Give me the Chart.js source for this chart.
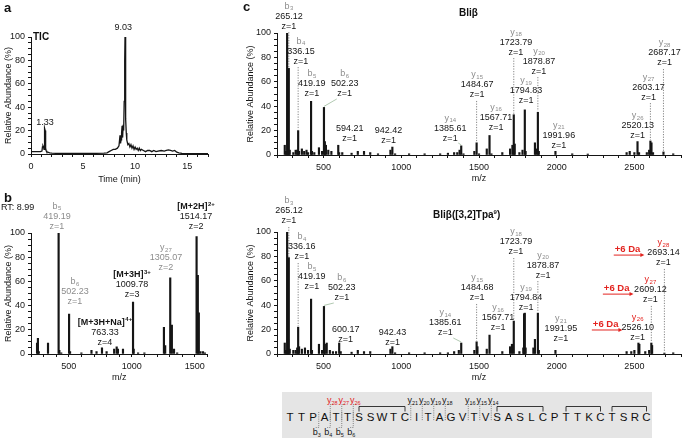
<!DOCTYPE html>
<html>
<head>
<meta charset="utf-8">
<script src="https://cdn.jsdelivr.net/npm/chart.js@4.4.1/dist/chart.umd.min.js"></script>
<style>
body { margin: 0; background: #fff; font-family: "Liberation Sans", Arial, sans-serif; }
#fig { position: relative; width: 685px; height: 439px; overflow: hidden; }
#fig canvas { position: absolute; }
.t { position: absolute; white-space: nowrap; color: #111; line-height: 1; }
.pl { font-weight: bold; font-size: 13px; }
.ttl { font-weight: bold; font-size: 10px; }
#seq { position: absolute; left: 0; top: 0; }
.aa { font: 11.5px "Liberation Sans", Arial, sans-serif; text-anchor: middle; fill: #111; }
.fl { font: 9px "Liberation Sans", Arial, sans-serif; text-anchor: middle; }
.br { fill: none; stroke: #222; stroke-width: 0.9; }
.dt { fill: none; stroke: #666; stroke-width: 0.8; stroke-dasharray: 1 1.2; }
</style>
</head>
<body>
<div id="fig">
  <canvas id="ticChart" width="225" height="185" style="left:0;top:0"></canvas>
  <canvas id="msChart" width="225" height="193" style="left:0;top:190px"></canvas>
  <canvas id="bliChart" width="445" height="184" style="left:240px;top:0"></canvas>
  <canvas id="tpaChart" width="445" height="193" style="left:240px;top:190px"></canvas>
  <svg id="seq" width="685" height="439"></svg>

  <div class="t pl" style="left:4px;top:1px">a</div>
  <div class="t pl" style="left:4px;top:191px">b</div>
  <div class="t pl" style="left:243px;top:0px">c</div>
  <div class="t ttl" style="left:33px;top:32px">TIC</div>
  <div class="t" style="left:1px;top:203px;font-size:9px">RT: 8.99</div>
  <div class="t ttl" style="left:459px;top:8px">Bliβ</div>
  <div class="t ttl" style="left:433px;top:209px">Bliβ([3,2]Tpa<sup style="font-size:6px">9</sup>)</div>
</div>

<script>
// a: total ion chromatogram
const ticTime = [
    0, 0.3, 0.6, 0.9, 1.05, 1.1, 1.15, 1.2, 1.25, 1.28,
    1.3, 1.33, 1.36, 1.39, 1.42, 1.45, 1.5, 1.6, 1.8, 2.0,
    2.5, 3, 4, 5, 6, 7, 7.3, 7.5, 7.7, 7.9,
    8.1, 8.3, 8.45, 8.55, 8.6, 8.65, 8.7, 8.75, 8.8, 8.85,
    8.9, 8.95, 9.0, 9.03, 9.06, 9.09, 9.12, 9.15, 9.2, 9.3,
    9.4, 9.5, 9.6, 9.7, 9.8, 9.9, 10.0, 10.1, 10.2, 10.3,
    10.4, 10.5, 10.6, 10.8, 11.0, 11.2, 11.4, 11.6, 11.8, 12.0,
    12.2, 12.5, 12.8, 13.0, 13.2, 13.4, 13.6, 13.8, 14.0, 14.2,
    14.5, 15, 16, 17
]
const ticAbund = [
    2, 2, 2, 2, 2.5, 6, 7, 6, 4, 12,
    22, 22, 20, 9, 5, 3, 2, 1.5, 1, 0.8,
    0.5, 0.5, 0.5, 0.5, 0.5, 0.7, 1, 2, 3, 4,
    4, 5, 7, 16, 9, 12, 18, 24, 14, 25,
    20, 45, 80, 100, 85, 60, 30, 18, 12, 8,
    9, 6, 8, 5, 7, 4, 6, 4, 5, 3,
    5, 3, 4, 3, 2, 3, 3, 2, 3, 2,
    2.5, 3, 2.5, 3, 3.5, 3, 2.5, 3, 1.5, 1,
    0.5, 0.3, 0.2, 0.2
]

// b: full MS at RT 8.99
const msMz = [
    248, 255, 262, 335, 419.19, 425, 440, 502.23, 510, 600,
    680, 720, 763.33, 800, 860, 880, 890, 930, 1009.78, 1015,
    1050, 1100, 1255, 1265, 1305.07, 1318, 1335, 1360, 1514.17, 1524,
    1532, 1545, 1565, 1580
]
const msAbund = [
    9, 13, 2, 9, 100, 3, 1, 33, 2, 1,
    3, 2, 5, 2, 4, 6, 4, 4, 43, 4,
    1, 1, 22, 7, 63, 24, 4, 1, 97, 65,
    34, 2, 2, 1
]

// c: MS/MS of Bli beta
const bliMz = [
    250, 258, 265.12, 271, 276, 282, 305, 320, 330, 336.15,
    342, 360, 375, 390, 400, 419.19, 425, 440, 470, 490,
    502.23, 508, 515, 530, 550, 594.21, 600, 620, 680, 720,
    760, 800, 850, 930, 942.42, 960, 1050, 1150, 1250, 1300,
    1340, 1360, 1375, 1385.61, 1400, 1470, 1484.67, 1500, 1550, 1567.71,
    1580, 1650, 1700, 1715, 1723.79, 1730, 1760, 1780, 1794.83, 1800,
    1860, 1870, 1878.87, 1885, 1991.96, 2100, 2200, 2450, 2470, 2500,
    2520.13, 2530, 2580, 2595, 2603.17, 2610, 2620, 2687.17, 2750
]
const bliAbund = [
    8, 3, 100, 12, 71, 4, 2, 4, 4, 20,
    3, 5, 3, 4, 2, 44, 3, 2, 6, 3,
    39, 11, 8, 4, 3, 8, 2, 2, 1.5, 3,
    3, 2, 1, 4, 6.5, 1, 1, 1, 1, 1.5,
    2, 2, 4, 7.5, 1, 3, 10, 1, 5, 16,
    1, 2, 5, 8, 33, 9, 2, 4, 37, 3,
    10, 5, 35, 3, 3, 1, 0.8, 2, 3, 2,
    11, 2, 2, 4, 11.5, 10, 2, 2.5, 1
]

// c: MS/MS of Bli beta([3,2]Tpa9)
const tpaMz = [
    250, 258, 265.12, 271, 276, 282, 305, 320, 330, 336.16,
    342, 360, 380, 400, 419.19, 425, 470, 490, 502.23, 508,
    520, 540, 560, 580, 600.17, 610, 680, 720, 760, 800,
    930, 942.43, 960, 1050, 1150, 1250, 1300, 1340, 1370, 1385.61,
    1470, 1484.68, 1490, 1550, 1567.71, 1650, 1700, 1712, 1723.79, 1760,
    1785, 1790, 1794.84, 1800, 1850, 1860, 1878.87, 1885, 1991.95, 2450,
    2480, 2500, 2526.10, 2532, 2570, 2595, 2609.12, 2614, 2693.14, 2750
]
const tpaAbund = [
    9, 3, 100, 12, 79, 4, 3, 3, 5, 22,
    6, 4, 5, 3, 45, 3, 8, 3, 39, 8,
    9, 3, 2, 2, 9, 2, 1.5, 3, 2, 2,
    4, 6, 1, 1, 1, 1, 1, 2, 3, 9,
    3, 10, 6, 4, 15.5, 2, 6, 8, 27, 2,
    5, 33, 33.5, 5, 5, 12, 33.5, 3, 3, 2,
    2, 3, 9, 8, 2, 3, 9, 7, 0.8, 1
]

// peptide map
const seq = 'TTPATTSSWTCITAGVTVSASLCPTTKCTSRC'
const bridges = [[6, 10], [18, 22], [24, 27], [28, 31]]
const yFrags = [28, 27, 26, 21, 20, 19, 18, 16, 15, 14]
const bFrags = [3, 4, 5, 6]
const shiftedFrags = [28, 27, 26]

// peak labels (x, y in data units of each chart)
const ticLabels = [
    {x: 8.85, y: 107.7, lines: ['9.03']},
    {x: 1.35, y: 26.5, lines: ['1.33']}
]
const msLabels = [
    {x: 406, y: 122.3, lines: ['b_5', '419.19', 'z=1'], gray: true},
    {x: 549, y: 59.5, lines: ['b_6', '502.23', 'z=1'], gray: true},
    {x: 787, y: 26.4, lines: ['[M+3H+Na]^4+', '763.33', 'z=4'], bold: true},
    {x: 1002, y: 65.3, lines: ['[M+3H]^3+', '1009.78', 'z=3'], bold: true},
    {x: 1271, y: 87.6, lines: ['y_27', '1305.07', 'z=2'], gray: true},
    {x: 1510, y: 121.5, lines: ['[M+2H]^2+', '1514.17', 'z=2'], bold: true}
]
const bliLabels = [
    {x: 277, y: 122, lines: ['b_3', '265.12', 'z=1'], to: 276, kind: 'dot'},
    {x: 354, y: 93.4, lines: ['b_4', '336.15', 'z=1'], to: 336.15, kind: 'dot'},
    {x: 424, y: 66.4, lines: ['b_5', '419.19', 'z=1']},
    {x: 636, y: 66.4, lines: ['b_6', '502.23', 'z=1'], to: 502.23, kind: 'lead'},
    {x: 668, y: 22.1, lines: ['594.21', 'z=1']},
    {x: 918, y: 19.7, lines: ['942.42', 'z=1']},
    {x: 1315, y: 30.3, lines: ['y_14', '1385.61', 'z=1'], to: 1385.61, kind: 'lead'},
    {x: 1488, y: 65.6, lines: ['y_15', '1484.67', 'z=1'], to: 1484.67, kind: 'dot'},
    {x: 1610, y: 39.3, lines: ['y_16', '1567.71', 'z=1']},
    {x: 1738, y: 100.8, lines: ['y_18', '1723.79', 'z=1'], to: 1723.79, kind: 'dot'},
    {x: 1886, y: 85.2, lines: ['y_20', '1878.87', 'z=1'], to: 1878.87, kind: 'dot'},
    {x: 1803, y: 60.7, lines: ['y_19', '1794.83', 'z=1']},
    {x: 2014, y: 24.5, lines: ['y_21', '1991.96', 'z=1']},
    {x: 2521, y: 32, lines: ['y_26', '2520.13', 'z=1']},
    {x: 2591, y: 63.9, lines: ['y_27', '2603.17', 'z=1'], to: 2603.17, kind: 'dot'},
    {x: 2694, y: 91.8, lines: ['y_28', '2687.17', 'z=1'], to: 2687.17, kind: 'dot'}
]
const tpaLabels = [
    {x: 277, y: 125.4, lines: ['b_3', '265.12', 'z=1'], to: 276, kind: 'dot'},
    {x: 360, y: 95.9, lines: ['b_4', '336.16', 'z=1'], to: 336.16, kind: 'dot'},
    {x: 424, y: 71.3, lines: ['b_5', '419.19', 'z=1']},
    {x: 617, y: 62.3, lines: ['b_6', '502.23', 'z=1'], to: 502.23, kind: 'lead'},
    {x: 642, y: 19.7, lines: ['600.17', 'z=1']},
    {x: 944, y: 18, lines: ['942.43', 'z=1']},
    {x: 1283, y: 33.6, lines: ['y_14', '1385.61', 'z=1'], to: 1385.61, kind: 'lead'},
    {x: 1488, y: 62.3, lines: ['y_15', '1484.68', 'z=1'], to: 1484.68, kind: 'dot'},
    {x: 1623, y: 37.7, lines: ['y_16', '1567.71', 'z=1']},
    {x: 1738, y: 100, lines: ['y_18', '1723.79', 'z=1'], to: 1723.79, kind: 'dot'},
    {x: 1912, y: 81.1, lines: ['y_20', '1878.87', 'z=1'], to: 1878.87, kind: 'dot'},
    {x: 1803, y: 54.9, lines: ['y_19', '1794.84', 'z=1']},
    {x: 2027, y: 28.7, lines: ['y_21', '1991.95', 'z=1']},
    {x: 2687, y: 91, lines: ['y_28', '2693.14', 'z=1'], red: true, to: 2693.14, kind: 'dot'},
    {x: 2603, y: 60.7, lines: ['y_27', '2609.12', 'z=1'], red: true, to: 2609.12, kind: 'dot'},
    {x: 2521, y: 30.3, lines: ['y_26', '2526.10', 'z=1'], red: true},
    {x: 2456, y: 86, note: '+6 Da'},
    {x: 2386, y: 54, note: '+6 Da'},
    {x: 2315, y: 24.6, note: '+6 Da'}
]

const INK = '#151515'
const GRAY = '#8c8c8c'
const RED = '#e3231f'
const FONT = '"Liberation Sans", Arial, sans-serif'
const LINE = 10

function richText(ctx, str, cx, cy, size, color, bold) {
    const m = str.match(/^([^_^]*)(?:([_^])(.*))?$/)
    const main = m[1], mode = m[2], small = m[3] || ''
    const w = bold ? 'bold ' : ''
    const f1 = w + size + 'px ' + FONT
    const f2 = w + Math.round(size * 0.62) + 'px ' + FONT
    ctx.font = f1
    const w1 = ctx.measureText(main).width
    ctx.font = f2
    const w2 = small ? ctx.measureText(small).width + 0.5 : 0
    const x = cx - (w1 + w2) / 2
    ctx.fillStyle = color
    ctx.textAlign = 'left'
    ctx.textBaseline = 'middle'
    ctx.font = f1
    ctx.fillText(main, x, cy)
    if (small) {
        ctx.font = f2
        ctx.fillText(small, x + w1 + 0.5, cy + (mode === '_' ? 2.5 : -3))
    }
}

function drawShift(ctx, text, cx, cy) {
    ctx.font = 'bold 9.5px ' + FONT
    const w = ctx.measureText(text).width
    ctx.fillStyle = RED
    ctx.textAlign = 'center'
    ctx.textBaseline = 'middle'
    ctx.fillText(text, cx, cy)
    const y = cy + 6, x1 = cx - w / 2 - 1, x2 = cx + w / 2 + 4
    ctx.strokeStyle = RED
    ctx.lineWidth = 1
    ctx.beginPath()
    ctx.moveTo(x1, y)
    ctx.lineTo(x2 - 3, y)
    ctx.stroke()
    ctx.beginPath()
    ctx.moveTo(x2, y)
    ctx.lineTo(x2 - 4, y - 2)
    ctx.lineTo(x2 - 4, y + 2)
    ctx.closePath()
    ctx.fill()
}

// one label plugin per chart, so the items never pass through Chart.js option resolution
function peakLabels(items) {
    return {
        id: 'peakLabels',
        afterDatasetsDraw(chart) {
            const ctx = chart.ctx, sx = chart.scales.x, sy = chart.scales.y
            const pts = chart.data.datasets[0].data
            ctx.save()
            items.forEach(it => {
                const cx = sx.getPixelForValue(it.x), cy = sy.getPixelForValue(it.y)
                if (it.note) {
                    drawShift(ctx, it.note, cx, cy)
                    return
                }
                it.lines.forEach((ln, i) => {
                    let col = INK
                    if (it.gray) col = GRAY
                    else if (i === 0 && ln.indexOf('_') > -1) col = it.red ? RED : GRAY
                    richText(ctx, ln, cx, cy + i * LINE, 9, col, it.bold && i === 0)
                })
                if (it.to !== undefined) {
                    const p = pts.find(d => d.x === it.to)
                    const tx = sx.getPixelForValue(it.to)
                    const ty = sy.getPixelForValue(p ? p.y : 0)
                    const by = cy + (it.lines.length - 1) * LINE + 6
                    ctx.beginPath()
                    ctx.lineWidth = 0.8
                    if (it.kind === 'dot') {
                        ctx.setLineDash([1.2, 1.4])
                        ctx.strokeStyle = '#666'
                        ctx.moveTo(tx, by)
                        ctx.lineTo(tx, ty - 1)
                    } else {
                        ctx.setLineDash([])
                        ctx.strokeStyle = '#9dbb9d'
                        ctx.moveTo(cx + Math.sign(tx - cx) * 8, by - 1)
                        ctx.lineTo(tx, ty - 1)
                    }
                    ctx.stroke()
                    ctx.setLineDash([])
                }
            })
            ctx.restore()
        }
    }
}

function chartOptions(x, pad, yw, xh) {
    return {
        responsive: false,
        animation: false,
        layout: {padding: pad},
        plugins: {legend: {display: false}, tooltip: {enabled: false}},
        scales: {
            x: {
                type: 'linear', min: x.min, max: x.max, offset: false,
                afterFit: s => { s.height = xh },
                border: {display: true, color: INK, width: 1},
                grid: {drawOnChartArea: false, drawTicks: true, tickLength: 3, color: INK, offset: false},
                ticks: {
                    stepSize: x.step, autoSkip: false, maxRotation: 0, maxTicksLimit: 1000, padding: 4,
                    color: INK, font: {size: 9, family: FONT},
                    callback: v => (Math.abs(v % x.major) < 1e-6 ? v : '')
                },
                title: {display: true, text: x.title, color: INK, padding: 0, font: {size: 9, family: FONT}}
            },
            y: {
                type: 'linear', min: 0, max: 100,
                afterFit: s => { s.width = yw },
                border: {display: true, color: INK, width: 1},
                grid: {drawOnChartArea: false, drawTicks: true, tickLength: 3, color: INK},
                ticks: {
                    stepSize: 5, autoSkip: false, maxTicksLimit: 1000, padding: 3,
                    color: INK, font: {size: 9, family: FONT},
                    callback: v => (v % 20 === 0 ? v : '')
                },
                title: {display: true, text: 'Relative Abundance (%)', color: INK, padding: 0, font: {size: 9, family: FONT}}
            }
        }
    }
}

function spectrum(id, mz, abund, x, pad, yw, xh, items) {
    return new Chart(document.getElementById(id), {
        type: 'bar',
        data: {
            datasets: [{
                data: mz.map((m, i) => ({x: m, y: abund[i]})),
                backgroundColor: INK,
                barThickness: 1.5,
                grouped: false
            }]
        },
        options: chartOptions(x, pad, yw, xh),
        plugins: [peakLabels(items)]
    })
}

function chromatogram() {
    new Chart(document.getElementById('ticChart'), {
        type: 'line',
        data: {
            datasets: [{
                data: ticTime.map((t, i) => ({x: t, y: ticAbund[i]})),
                borderColor: INK,
                borderWidth: 1.3,
                pointRadius: 0,
                tension: 0,
                fill: false
            }]
        },
        options: chartOptions({min: 0, max: 17, step: 1, major: 5, title: 'Time (min)'},
            {left: 3, top: 37, right: 17, bottom: 0}, 28, 31),
        plugins: [peakLabels(ticLabels)]
    })
}

function drawSequence() {
    const x0 = 290, dx = 11.5
    const px = i => x0 + i * dx
    let s = '<rect x="282" y="392" width="370" height="46" fill="#e5e5e5"/>'
    bridges.forEach(([a, b]) => {
        s += `<path class="br" d="M${px(a)} 411.5V406.5H${px(b)}V411.5"/>`
    })
    yFrags.forEach(n => {
        const bx = px(seq.length - n) - dx / 2
        const col = shiftedFrags.indexOf(n) > -1 ? RED : INK
        s += `<path class="dt" d="M${bx + 3} 404.5H${bx}V421"/>`
        s += `<text class="fl" x="${bx + 2}" y="403" fill="${col}">y<tspan font-size="5.5" dy="1.5">${n}</tspan></text>`
    })
    bFrags.forEach(n => {
        const bx = px(n) - dx / 2
        s += `<path class="dt" d="M${bx} 412V427.5H${bx - 3}"/>`
        s += `<text class="fl" x="${bx - 2}" y="435" fill="${INK}">b<tspan font-size="5.5" dy="1.5">${n}</tspan></text>`
    })
    seq.split('').forEach((c, i) => {
        s += `<text class="aa" x="${px(i)}" y="421">${c}</text>`
    })
    document.getElementById('seq').innerHTML = s
}

chromatogram()
spectrum('msChart', msMz, msAbund, {min: 200, max: 1600, step: 100, major: 500, title: 'm/z'},
    {left: 3, top: 43, right: 17.6, bottom: 0}, 28, 29, msLabels)
spectrum('bliChart', bliMz, bliAbund, {min: 200, max: 2800, step: 100, major: 500, title: 'm/z'},
    {left: 5, top: 33, right: 2.4, bottom: 0}, 32, 29, bliLabels)
spectrum('tpaChart', tpaMz, tpaAbund, {min: 200, max: 2800, step: 100, major: 500, title: 'm/z'},
    {left: 5, top: 42, right: 2.4, bottom: 0}, 32, 29, tpaLabels)
drawSequence()
</script>
</body>
</html>
